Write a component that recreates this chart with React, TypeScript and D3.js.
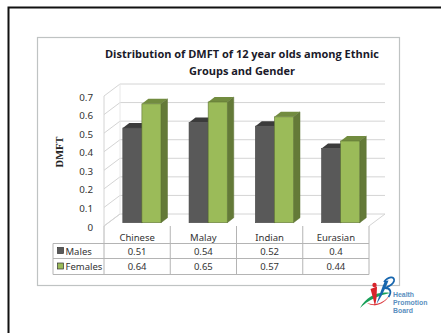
import React from "react";
import * as d3 from "d3";

const categories = ["Chinese", "Malay", "Indian", "Eurasian"];
const males = [0.51, 0.54, 0.52, 0.4];
const females = [0.64, 0.65, 0.57, 0.44];
const yTicks = [0, 0.1, 0.2, 0.3, 0.4, 0.5, 0.6, 0.7];
const titleLines = ["Distribution of DMFT of 12 year olds among Ethnic", "Groups and Gender"];
const logoWords = ["Health", "Promotion", "Board"];

const series = [
  { name: "Males", values: males, front: "#595959", top: "#3b3b3b", side: "#414141", stroke: "#4a4a4a" },
  { name: "Females", values: females, front: "#9bbb59", top: "#728c3f", side: "#647a38", stroke: "#5f7535" },
];

const labelFont = "'Noto Sans', sans-serif";
const dx = 16, dy = 12, barDx = 6.5, barDy = 5;
const x = d3.scaleBand<string>().domain(categories).range([104, 369]);
const xInner = d3.scaleBand<number>().domain([0, 1]).range([18.8, 57]);
const y = d3.scaleLinear().domain([0, 0.7]).range([226, 96]);
const barBase = -3.3;

export default function App() {
  return (
    <svg width={441} height={333} style={{ position: "absolute", left: 0, top: 0, background: "#fff" }}>
      <path d="M8.5 333V7.5H441" fill="none" stroke="#111" strokeWidth={2} />
      <rect x={37.5} y={37.5} width={362} height={248} fill="#fff" stroke="#bfc3c3" strokeWidth={1.2} />
      {titleLines.map((t, i) => (
        <text key={t} x={242} y={58 + i * 16.5} textAnchor="middle" fontFamily="'Open Sans', sans-serif" fontWeight={700} fontSize={11} fill="#1a1a2a">{t}</text>
      ))}
      {yTicks.map((t) => (
        <g key={t}>
          <path d={`M104 ${y(t)}L${104 + dx} ${y(t) - dy}H${369 + dx}`} fill="none" stroke="#d4d4d4" strokeWidth={1} />
          <text x={93} y={y(t) + 4.5} textAnchor="end" fontFamily={labelFont} fontSize={9.8} fill="#333">{t}</text>
        </g>
      ))}
      <path d={`M104 ${y(0.7)}V${y(0)}L${104 + dx} ${y(0) - dy}M${369 + dx} ${y(0) - dy}L369 ${y(0)}`} fill="none" stroke="#d4d4d4" />
      <path d={`M${104 + dx} ${y(0.7) - dy}V${y(0) - dy}`} fill="none" stroke="#e8e8e8" />
      <text transform="translate(63,152) rotate(-90)" textAnchor="middle" fontFamily="'Liberation Serif', serif" fontWeight={700} fontSize={10.5} fill="#222">DMFT</text>

      {categories.map((c, ci) =>
        series.map((s, si) => {
          const x0 = (x(c) as number) + (xInner(si) as number);
          const w = xInner.bandwidth();
          const y0 = y(0) + barBase;
          const y1 = y(s.values[ci]) + barBase;
          return (
            <g key={c + s.name}>
              <path d={`M${x0} ${y1}l${barDx} ${-barDy}h${w}l${-barDx} ${barDy}z`} fill={s.top} />
              <path d={`M${x0 + w} ${y1}l${barDx} ${-barDy}V${y0 - barDy}l${-barDx} ${barDy}z`} fill={s.side} stroke={s.stroke} strokeWidth={0.5} />
              <rect x={x0} y={y1} width={w} height={y0 - y1} fill={s.front} stroke={s.stroke} strokeWidth={0.6} />
            </g>
          );
        })
      )}

      <g fill="none" stroke="#b4b4b4" strokeWidth={1}>
        <path d="M53 243.5H369M53 258.5H369M53 274.5H369M53 243.5V274.5M369 226V274.5M104 226V274.5" />
        {categories.slice(1).map((c) => (
          <path key={c} d={`M${x(c)} 226V274.5`} />
        ))}
      </g>
      {categories.map((c, i) => (
        <g key={c} fontFamily={labelFont} fontSize={9.5} fill="#333" textAnchor="middle">
          <text x={(x(c) as number) + x.bandwidth() / 2} y={241}>{c}</text>
          <text x={(x(c) as number) + x.bandwidth() / 2} y={255}>{males[i]}</text>
          <text x={(x(c) as number) + x.bandwidth() / 2} y={270}>{females[i]}</text>
        </g>
      ))}
      {series.map((s, i) => (
        <g key={s.name}>
          <rect x={57.5} y={247.5 + i * 15.5} width={6} height={6} fill={s.front} stroke="#333" strokeWidth={0.7} />
          <text x={65.5} y={255 + i * 15} fontFamily={labelFont} fontSize={9.5} fill="#333">{s.name}</text>
        </g>
      ))}

      <g>
        <path d="M360 308C366 297 378 291 390 293C380 295 368 300 360 308Z" fill="#1aa05a" />
        <path d="M367 303C375 306 385 303 390 294C387 302 376 309 367 303Z" fill="#d8232a" opacity={0.9} />
        <circle cx={374.5} cy={285} r={2.2} fill="#d8232a" />
        <path d="M370.5 289L377 286.5L376.5 298L375 306L373 298Z" fill="#d8232a" />
        <path d="M376.5 304C379.5 295 382 287 385 281L388.5 280.5C385.5 288 381 298 376.5 304Z" fill="#1766ae" />
        <path d="M384 282C388 276.5 395 275.5 394 281C393 285 387.5 287 385 288C390.5 288 392 292 388.5 297" fill="none" stroke="#1766ae" strokeWidth={1.8} />
        {logoWords.map((w, i) => (
          <text key={w} x={393} y={297 + i * 8} fontFamily="'Liberation Sans', sans-serif" fontWeight={700} fontSize={6.9} fill="#5a8fc0">{w}</text>
        ))}
      </g>
    </svg>
  );
}
